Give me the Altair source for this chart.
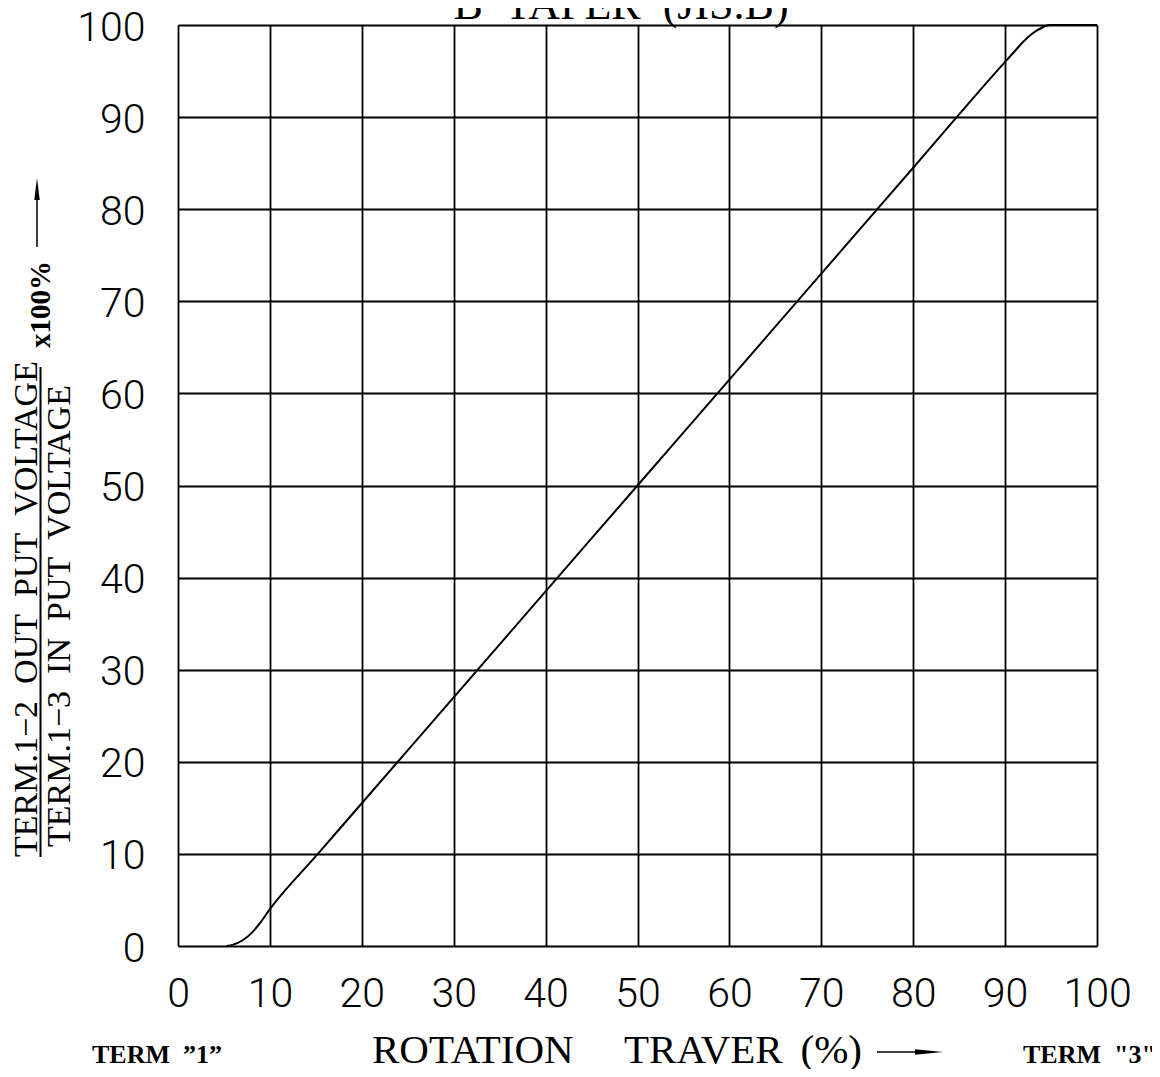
import altair as alt
import pandas as pd

# Curve (rotation travel % -> output ratio %)
travel = [5.3, 6, 7, 8, 9, 10, 15, 20, 30, 40, 50, 60, 70, 80, 90, 91, 92, 93, 94, 94.8, 100]
output = [0, 0.15, 0.6, 1.4, 2.6, 4.0, 9.75, 15.5, 27, 38.5, 50, 61.5, 73, 84.5, 96, 97.1, 98.2, 99.1, 99.7, 100, 100]
ticks = list(range(0, 101, 10))

curve_df = pd.DataFrame({"travel": travel, "output": output})
one = pd.DataFrame({"d": [0]})

W, H = 919, 921
SERIF = "Liberation Serif"
SP2 = "\u00a0\u00a0"

xs = alt.Scale(domain=[0, 100], nice=False, zero=False)
ys = alt.Scale(domain=[0, 100], nice=False, zero=False)

curve = alt.Chart(curve_df).mark_line(color="black", strokeWidth=2, interpolate="monotone").encode(
    x=alt.X("travel:Q", scale=xs, axis=alt.Axis(
        values=ticks, title=None, grid=True, gridColor="black", gridWidth=1.8, gridOpacity=1,
        domain=False, ticks=False, labelFont="Roboto", labelFontWeight=300, labelFontSize=41,
        labelColor="black", labelPadding=28, labelBaseline="top", labelFlush=False)),
    y=alt.Y("output:Q", scale=ys, axis=alt.Axis(
        values=ticks, title=None, grid=True, gridColor="black", gridWidth=1.8, gridOpacity=1,
        domain=False, ticks=False, labelFont="Roboto", labelFontWeight=300, labelFontSize=41,
        labelColor="black", labelPadding=33, labelBaseline="middle", labelOffset=3, labelFlush=False)),
)

def txt(s, x, y, size, align="left", angle=0, weight="normal", baseline="alphabetic"):
    return alt.Chart(one).mark_text(
        text=s, font=SERIF, fontSize=size, align=align, angle=angle, fontWeight=weight,
        baseline=baseline, color="black"
    ).encode(x=alt.value(x), y=alt.value(y))

title = txt("B" + SP2 + "TAPER" + SP2 + "(JIS.B)", 443, -6, 44, align="center")

ylab1 = txt("TERM.1\u22122" + SP2 + "OUT" + SP2 + "PUT" + SP2 + "VOLTAGE", -141, 832, 34, angle=270)
ylab2 = txt("TERM.1\u22123" + SP2 + "IN" + SP2 + "PUT" + SP2 + "VOLTAGE", -108, 822, 34, angle=270)
ybar = alt.Chart(one).mark_rule(color="black", strokeWidth=2).encode(
    x=alt.value(-137.5), y=alt.value(832), y2=alt.value(342))
yx100 = txt("x100%", -128, 323, 29, angle=270, weight="bold")
yarrow = alt.Chart(one).mark_rule(color="black", strokeWidth=1.5).encode(
    x=alt.value(-141), y=alt.value(222), y2=alt.value(160))
yhead = alt.Chart(one).mark_point(
    shape="M0,-1L0.25,1L-0.25,1Z", size=484, filled=True, color="black", opacity=1
).encode(x=alt.value(-141), y=alt.value(164))

BASE = 1038
term1 = txt("TERM" + SP2 + "\u201d1\u201d", -86, BASE, 26, weight="bold")
rot = txt("ROTATION", 194, BASE, 41)
trav = txt("TRAVER", 446, BASE, 41)
pct = txt("(%)", 684, BASE, 41, align="right")
xarrow = alt.Chart(one).mark_rule(color="black", strokeWidth=1.5).encode(
    x=alt.value(699), x2=alt.value(745), y=alt.value(1027))
xhead = alt.Chart(one).mark_point(
    shape="M1,0L-1,-0.2L-1,0.2Z", size=784, filled=True, color="black", opacity=1
).encode(x=alt.value(751), y=alt.value(1027))
term3 = txt("TERM" + SP2 + '"3"', 845, BASE, 26, weight="bold")

chart = alt.layer(
    curve, title, ylab1, ylab2, ybar, yx100, yarrow, yhead,
    term1, rot, trav, pct, xarrow, xhead, term3
).properties(
    width=W, height=H,
    autosize=alt.AutoSizeParams(type="none"),
    padding={"left": 170, "top": 17, "right": 55, "bottom": 123},
).configure_view(stroke="black", strokeWidth=2.5).configure(background="white")

chart.save("out.html", embed_options={"renderer": "svg", "actions": False})
